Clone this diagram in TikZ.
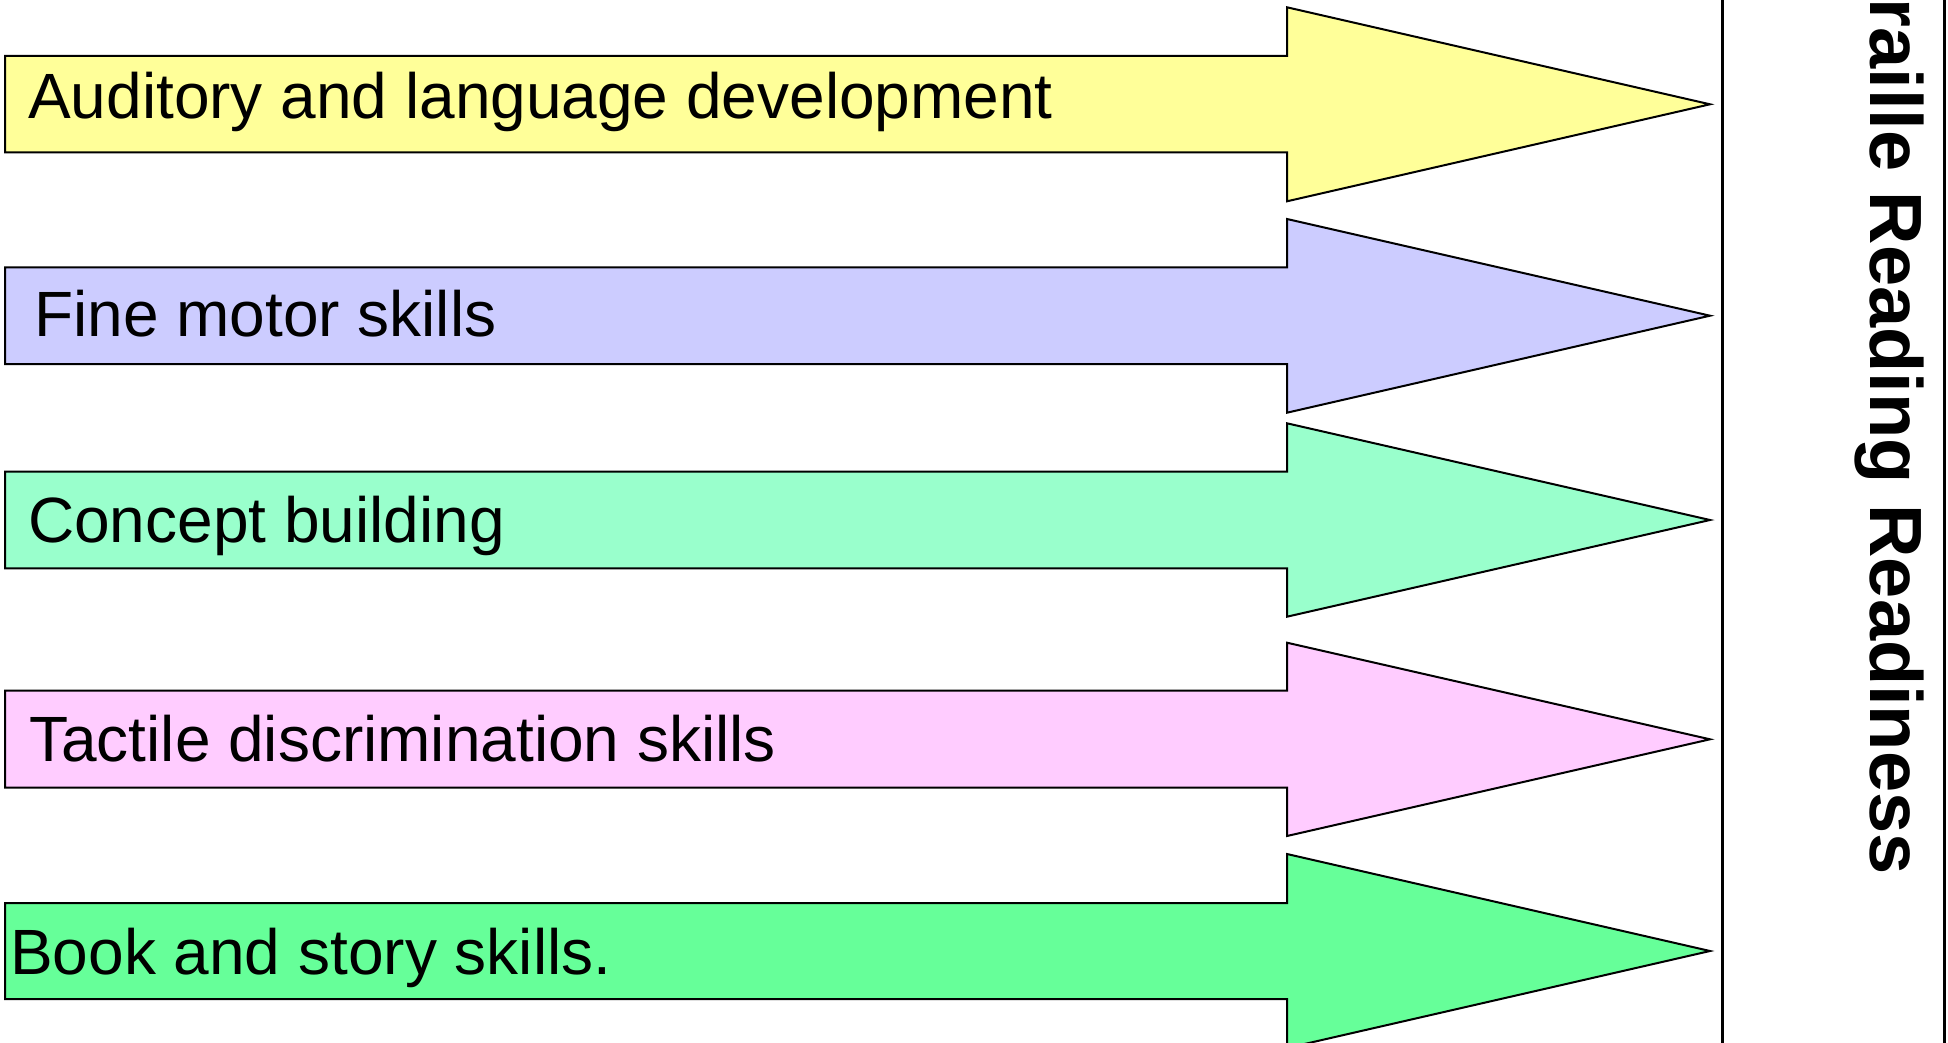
\documentclass[tikz,border=0pt]{standalone}
\usepackage{fontspec}
\setmainfont{Liberation Sans}
\definecolor{audcol}{HTML}{FFFF99}
\definecolor{motcol}{HTML}{CCCCFF}
\definecolor{concol}{HTML}{99FFCC}
\definecolor{taccol}{HTML}{FFCCFF}
\definecolor{bookcol}{HTML}{66FF99}

\begin{document}
\begin{tikzpicture}[x=1pt,y=-1pt]
	\tikzstyle{every node}=[inner sep=0pt, anchor=base west, font=\fontsize{64}{77}\selectfont]
	\tikzstyle{skill}=[draw, line width=2pt]
	\useasboundingbox (0,0) rectangle (1948,1043);
	\clip (0,0) rectangle (1948,1043);
	\draw[skill,fill=audcol] (5,56) -- (1287,56) -- (1287,7.3) -- (1710,104.3) -- (1287,201.3) -- (1287,152.5) -- (5,152.5) -- cycle;
	\draw[skill,fill=motcol] (5,267.3) -- (1287,267.3) -- (1287,219) -- (1710,315.7) -- (1287,412.7) -- (1287,364) -- (5,364) -- cycle;
	\draw[skill,fill=concol] (5,471.7) -- (1287,471.7) -- (1287,423.3) -- (1710,520) -- (1287,616.7) -- (1287,568.3) -- (5,568.3) -- cycle;
	\draw[skill,fill=taccol] (5,690.7) -- (1287,690.7) -- (1287,642.7) -- (1710,739.3) -- (1287,836) -- (1287,787.7) -- (5,787.7) -- cycle;
	\draw[skill,fill=bookcol] (5,903) -- (1287,903) -- (1287,854) -- (1710,951) -- (1287,1048) -- (1287,999) -- (5,999) -- cycle;
	\draw (28,118.3) node (aud) {Auditory and language development};
	\draw (34,336.7) node (motor) {Fine motor skills};
	\draw (28,542.9) node (concept) {Concept building};
	\draw (29,761.8) node (tactile) {Tactile discrimination skills};
	\draw (10,974.3) node (book) {Book and story skills.};
	\draw[line width=3pt] (1722,-10) rectangle (1944,1060);
	\draw (1870,410) node (ready) [rotate=-90, anchor=base, font=\bfseries\fontsize{74}{89}\selectfont] {Braille Reading Readiness};
\end{tikzpicture}
\end{document}
